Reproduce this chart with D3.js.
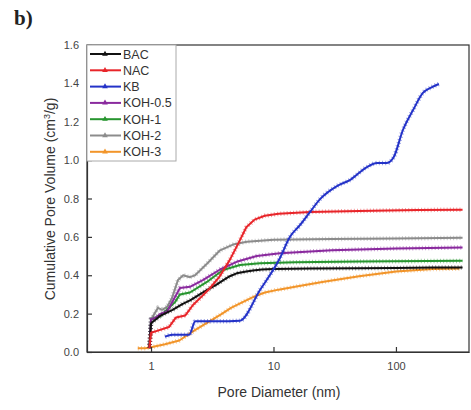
<!DOCTYPE html>
<html><head><meta charset="utf-8">
<script src="https://cdn.jsdelivr.net/npm/d3@7"></script>
<style>body{margin:0;background:#fff}svg{display:block}</style>
</head><body>
<svg id="c" width="471" height="410"></svg>
<script>
const seriesNames = ["BAC","NAC","KB","KOH-0.5","KOH-1","KOH-2","KOH-3"];
const seriesColors = ["#111111","#e8252a","#2433c8","#8a2a9e","#27952f","#8c8c8c","#f2952a"];

const BAC_d = [0.97,1.0,1.2,1.5,1.8,2.1,2.5,2.9,3.4,3.9,4.4,5.0,6.0,6.8,8,10,20,50,100,200,350];
const BAC_v = [0.02,0.15,0.19,0.22,0.25,0.27,0.30,0.325,0.35,0.375,0.395,0.41,0.42,0.425,0.43,0.432,0.435,0.437,0.438,0.44,0.44];

const NAC_d = [0.97,1.0,1.12,1.4,1.6,1.9,2.2,2.6,3.0,3.6,4.4,5.2,6.0,7.0,8.5,11,20,50,150,350];
const NAC_v = [0.02,0.10,0.11,0.13,0.18,0.19,0.245,0.29,0.33,0.39,0.48,0.57,0.65,0.69,0.71,0.72,0.73,0.735,0.74,0.742];

const KB_d = [1.3,1.5,2.05,2.3,3.5,5.3,7.76,11.3,13.6,16.5,19.9,24,33,42,58,70,84.5,96,114,138,166,197,224];
const KB_v = [0.08,0.09,0.09,0.16,0.16,0.163,0.323,0.49,0.599,0.662,0.73,0.797,0.865,0.896,0.964,0.985,0.985,1.016,1.157,1.261,1.35,1.381,1.397];

const KOH05_d = [0.97,1.0,1.1,1.2,1.35,1.72,2.08,2.65,3.66,5.0,7.3,11.3,30,100,350];
const KOH05_v = [0.02,0.17,0.18,0.2,0.21,0.333,0.34,0.375,0.43,0.47,0.50,0.515,0.53,0.54,0.545];

const KOH1_d = [0.97,1.0,1.2,1.57,1.72,2.08,2.86,3.87,5.33,7.76,15,50,350];
const KOH1_v = [0.02,0.17,0.19,0.26,0.30,0.31,0.365,0.427,0.453,0.463,0.468,0.472,0.475];

const KOH2_d = [0.97,1.0,1.14,1.23,1.35,1.48,1.66,1.83,2.08,2.29,2.86,3.66,4.67,6.06,10,30,100,350];
const KOH2_v = [0.02,0.17,0.23,0.22,0.235,0.28,0.375,0.40,0.39,0.40,0.46,0.53,0.56,0.575,0.585,0.589,0.592,0.595];

const KOH3_d = [0.78,0.9,1.0,1.3,1.7,2.3,3.0,3.7,4.5,5.6,7.0,8.5,11,15,25,50,100,200,330];
const KOH3_v = [0.02,0.02,0.025,0.04,0.06,0.115,0.16,0.195,0.23,0.26,0.29,0.31,0.325,0.34,0.365,0.395,0.42,0.432,0.435];

const xTicks = [1,10,100];
const yTicks = [0,0.2,0.4,0.6,0.8,1.0,1.2,1.4,1.6];

const allD = [BAC_d,NAC_d,KB_d,KOH05_d,KOH1_d,KOH2_d,KOH3_d];
const allV = [BAC_v,NAC_v,KB_v,KOH05_v,KOH1_v,KOH2_v,KOH3_v];

const L = 87, R = 469, T = 45, B = 352;
const svg = d3.select("#c");
const x = d3.scaleLog().domain([0.3, 395]).range([L, R]);
const y = d3.scaleLinear().domain([0, 1.6]).range([B, T]);

// title
svg.append("text").attr("x", 14).attr("y", 25).attr("font-family", "Liberation Serif, serif")
  .attr("font-weight", "bold").attr("font-size", 21).attr("fill", "#222").text("b)");

// series
const lineLin = d3.line().x(d => x(d[0])).y(d => y(d[1]));
const lineSmooth = d3.line().x(d => x(d[0])).y(d => y(d[1])).curve(d3.curveMonotoneX);
const order = [6,5,4,3,0,1,2];
const gS = svg.append("g");
order.forEach(i => {
  const pts = allD[i].map((d, k) => [d, allV[i][k]]);
  const gen = i === 2 ? lineSmooth : lineLin;
  gS.append("path").attr("d", gen(pts)).attr("fill", "none")
    .attr("stroke", seriesColors[i]).attr("stroke-width", 2).attr("stroke-linejoin", "round");
  gS.append("path").attr("d", gen(pts)).attr("fill", "none")
    .attr("stroke", seriesColors[i]).attr("stroke-width", 4.5).attr("stroke-dasharray", "1 2.2")
    .attr("opacity", 0.45);
});

// frame
svg.append("rect").attr("x", L).attr("y", T).attr("width", R - L).attr("height", B - T)
  .attr("fill", "none").attr("stroke", "#333").attr("stroke-width", 1.2);

// axes (inward ticks)
const yAxis = d3.axisLeft(y).tickValues(yTicks).tickFormat(d3.format(".1f")).tickSizeInner(-5).tickSizeOuter(0).tickPadding(8);
const gy = svg.append("g").attr("transform", `translate(${L},0)`).call(yAxis);
const xAxis = d3.axisBottom(x).tickValues(xTicks).tickFormat(d3.format("d")).tickSizeInner(-5).tickSizeOuter(0).tickPadding(10);
const gx = svg.append("g").attr("transform", `translate(0,${B})`).call(xAxis);
[gx, gy].forEach(g => {
  g.select(".domain").attr("stroke", "#333").attr("stroke-width", 1.2);
  g.selectAll(".tick line").attr("stroke", "#333").attr("stroke-width", 1.2);
  g.selectAll("text").attr("font-family", "Liberation Sans, Arial, sans-serif").attr("font-size", 11).attr("fill", "#444");
});

// axis labels
svg.append("text").attr("x", 279).attr("y", 397).attr("text-anchor", "middle")
  .attr("font-family", "Liberation Sans, Arial, sans-serif").attr("font-size", 14).attr("fill", "#333")
  .text("Pore Diameter (nm)");
const yl = svg.append("text").attr("transform", "translate(55,199) rotate(-90)").attr("text-anchor", "middle")
  .attr("font-family", "Liberation Sans, Arial, sans-serif").attr("font-size", 14).attr("fill", "#333");
yl.append("tspan").text("Cumulative Pore Volume (cm");
yl.append("tspan").attr("font-size", 9).attr("dy", -5).text("3");
yl.append("tspan").attr("dy", 5).text("/g)");

// legend
const lg = svg.append("g");
lg.append("rect").attr("x", L).attr("y", T).attr("width", 89).attr("height", 116)
  .attr("fill", "#fff").attr("stroke", "#aaa").attr("stroke-width", 1);
seriesNames.forEach((n, i) => {
  const yy = 54 + i * 16.3;
  lg.append("line").attr("x1", L + 3).attr("x2", 121).attr("y1", yy).attr("y2", yy)
    .attr("stroke", seriesColors[i]).attr("stroke-width", 2);
  lg.append("path").attr("d", d3.symbol(d3.symbolTriangle, 14)()).attr("transform", `translate(105,${yy})`)
    .attr("fill", seriesColors[i]);
  lg.append("text").attr("x", 123).attr("y", yy + 4.5).attr("font-family", "Liberation Sans, Arial, sans-serif")
    .attr("font-size", 12.5).attr("fill", "#333").text(n);
});
</script>
</body></html>
